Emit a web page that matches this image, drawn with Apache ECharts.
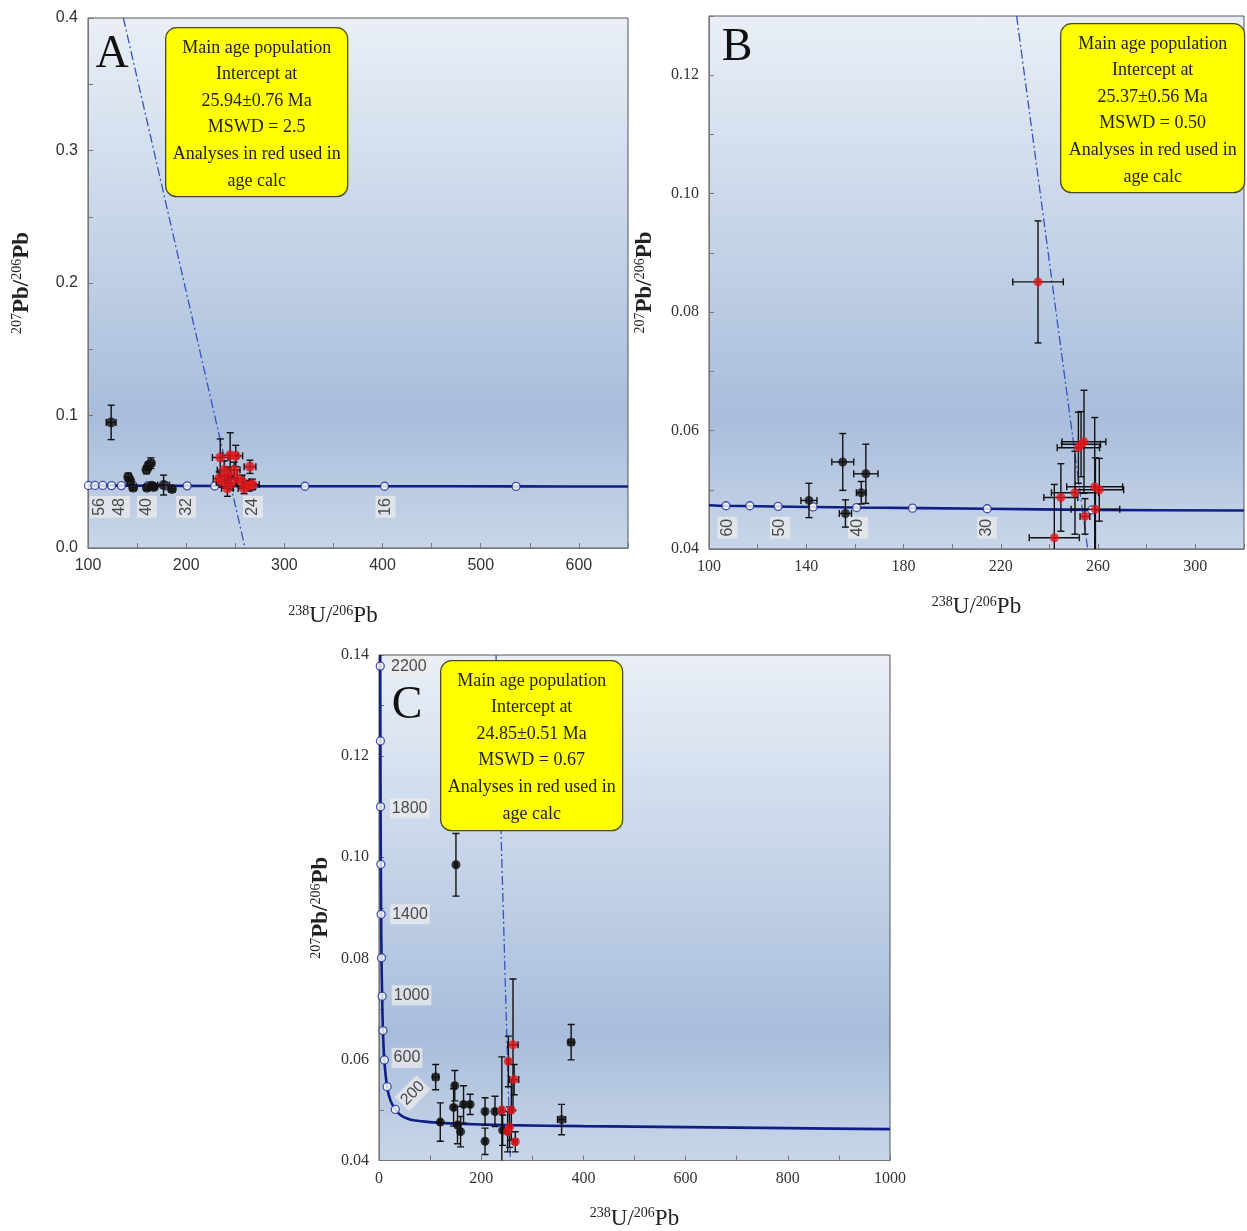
<!DOCTYPE html>
<html>
<head>
<meta charset="utf-8">
<script src="https://cdn.jsdelivr.net/npm/echarts@6/dist/echarts.min.js"></script>
<style>
  html, body { margin: 0; padding: 0; background: #fff; }
  #chart { width: 1247px; height: 1231px; }
</style>
</head>
<body>
<div id="chart"></div>
<script>
// ---- panel A ----
// [x, y, xerr, yerr]
const aBlack = [
  [123.6, 0.0948, 5, 0.013], [141, 0.0535, 3, 0.003], [143, 0.0505, 3, 0.003],
  [146, 0.0455, 3, 0.002], [159.6, 0.059, 3, 0.003], [161.6, 0.062, 3, 0.003],
  [164, 0.064, 3, 0.004], [160, 0.0455, 3, 0.002], [165, 0.047, 3, 0.002],
  [167, 0.046, 3, 0.002], [177, 0.0475, 6, 0.0075], [185.5, 0.0445, 3, 0.002]
];
const aRed = [
  [234.7, 0.0683, 8, 0.014], [244.8, 0.070, 8, 0.017], [250.5, 0.0695, 7, 0.008],
  [265, 0.0613, 6, 0.005], [238.7, 0.0588, 7, 0.007], [233.6, 0.0525, 6, 0.005],
  [242, 0.055, 7, 0.006], [248.8, 0.0588, 6, 0.006], [252, 0.0525, 7, 0.006],
  [245.5, 0.0488, 6, 0.005], [257, 0.050, 7, 0.005], [264, 0.047, 6, 0.004],
  [267.4, 0.048, 7, 0.004], [242, 0.045, 6, 0.006], [259, 0.045, 6, 0.004],
  [236.7, 0.050, 6, 0.004]
];
const aConcordia = [[100, 0.0472], [134, 0.0471], [201, 0.0469], [268, 0.0467], [402, 0.0466], [536, 0.0465], [650, 0.0464]];
const aMarkers = [
  [100.5, 0.0472], [107, 0.0472], [115, 0.0472], [124, 0.0471], [134, 0.0471], [146, 0.0471],
  [161, 0.047], [179, 0.047], [201, 0.0469], [229, 0.0468], [268, 0.0467], [321, 0.0466],
  [402, 0.0466], [536, 0.0465]
];
const aAgeLabels = [[112, 0.031, '56'], [132.6, 0.031, '48'], [160, 0.031, '40'], [200, 0.031, '32'], [268, 0.031, '24'], [403, 0.031, '16']];
const aDiscordia = [[136, 0.4], [260, 0]];
const aNote = ['Main age population', 'Intercept at', '25.94±0.76 Ma', 'MSWD = 2.5', 'Analyses in red used in', 'age calc'];

// ---- panel B ----
const bBlack = [
  [141.1, 0.0482, 3.3, 0.0029], [155.0, 0.0547, 4.5, 0.0048], [156.1, 0.046, 2.5, 0.0023],
  [162.6, 0.0495, 2, 0.0019], [164.5, 0.0527, 5, 0.005]
];
const bRed = [
  [235.3, 0.0851, 10.4, 0.0103], [251.9, 0.0571, 8.7, 0.006], [253, 0.0577, 8, 0.0055],
  [254.2, 0.0581, 9, 0.0087], [244.7, 0.0487, 7, 0.0057], [250.5, 0.0495, 9.7, 0.007],
  [258.6, 0.0505, 11.5, 0.0117], [260.5, 0.050, 10, 0.0053], [258.9, 0.0467, 10, 0.0087],
  [254.6, 0.0455, 2, 0.003], [242, 0.0419, 10.3, 0.009]
];
const bConcordia = [[100, 0.0474], [107, 0.0473], [160.7, 0.047], [214.4, 0.0468], [257.4, 0.0466], [320, 0.0465]];
const bMarkers = [
  [107, 0.0473], [116.8, 0.0473], [128.4, 0.0472], [142.8, 0.0471], [160.7, 0.047],
  [183.7, 0.0469], [214.4, 0.0468], [257.4, 0.0466]
];
const bAgeLabels = [[107.6, 0.0436, '60'], [129.2, 0.0436, '50'], [161.3, 0.0436, '40'], [214.3, 0.0436, '30']];
const bDiscordia = [[226.5, 0.13], [255.7, 0.04]];
const bNote = ['Main age population', 'Intercept at', '25.37±0.56 Ma', 'MSWD = 0.50', 'Analyses in red used in', 'age calc'];

// ---- panel C ----
const cBlack = [
  [150.6, 0.0985, 3, 0.0062], [110.9, 0.0565, 6, 0.0025], [119.9, 0.0476, 3, 0.0038],
  [148.3, 0.0548, 3, 0.003], [146, 0.0505, 3, 0.0037], [153.6, 0.047, 3, 0.0037],
  [159.6, 0.0457, 3, 0.003], [165.5, 0.0511, 3, 0.0037], [178.3, 0.0511, 3, 0.002],
  [207.5, 0.0497, 3, 0.0027], [207.5, 0.0438, 3, 0.0026], [227, 0.0497, 3, 0.003],
  [242, 0.046, 3, 0.003], [357.3, 0.0481, 8, 0.003], [376, 0.0634, 6, 0.0035]
];
const cRed = [
  [240.4, 0.050, 3, 0.0105], [253.2, 0.0596, 3, 0.005], [262.2, 0.0629, 10, 0.013],
  [264.4, 0.056, 9, 0.003], [259, 0.050, 3, 0.006], [255.4, 0.0466, 3, 0.004],
  [251.7, 0.0457, 3, 0.004], [266.7, 0.0437, 4, 0.002]
];
const cConcordia = [
  [2.4, 0.14], [2.46, 0.1378], [2.75, 0.123], [3.11, 0.110], [3.56, 0.0986], [4.15, 0.0887],
  [4.95, 0.0801], [6.1, 0.0725], [7.7, 0.0657], [10.4, 0.0599], [15.8, 0.0546], [22, 0.052],
  [31.9, 0.0501], [42, 0.049], [55, 0.0483], [70, 0.0479], [100, 0.0476], [150, 0.0473],
  [250, 0.047], [400, 0.0468], [600, 0.0466], [800, 0.0464], [1000, 0.0462]
];
const cMarkers = [
  [2.46, 0.1378], [2.75, 0.123], [3.11, 0.110], [3.56, 0.0986], [4.15, 0.0887], [4.95, 0.0801],
  [6.1, 0.0725], [7.7, 0.0657], [10.4, 0.0599], [15.8, 0.0546], [31.9, 0.0501]
];
const cAgeLabels = [[58.4, 0.1378, '2200'], [60, 0.1097, '1800'], [60.7, 0.0887, '1400'], [63.7, 0.0727, '1000'], [54.7, 0.0603, '600']];
const cAgeLabelsTilted = [[66, 0.0533, '200']];
const cDiscordia = [[229, 0.14], [257, 0.04]];
const cNote = ['Main age population', 'Intercept at', '24.85±0.51 Ma', 'MSWD = 0.67', 'Analyses in red used in', 'age calc'];

const SERIF = '"Liberation Serif", "Times New Roman", serif';
const SANS = '"Liberation Sans", Arial, sans-serif';

const plotBg = {
  type: 'linear', x: 0, y: 0, x2: 0, y2: 1,
  colorStops: [
    { offset: 0, color: '#eaeff6' },
    { offset: 0.35, color: '#cbd8ea' },
    { offset: 0.75, color: '#a8bddb' },
    { offset: 1, color: '#c9d6e9' }
  ]
};

function errorBars(params, api) {
  const x = api.value(0), y = api.value(1), ex = api.value(2), ey = api.value(3);
  const l = api.coord([x - ex, y]), r = api.coord([x + ex, y]);
  const t = api.coord([x, y + ey]), b = api.coord([x, y - ey]);
  const c = 3.5;
  const style = { stroke: '#111', lineWidth: 1.4 };
  const seg = (x1, y1, x2, y2) => ({ type: 'line', shape: { x1, y1, x2, y2 }, style });
  return {
    type: 'group',
    children: [
      seg(l[0], l[1], r[0], r[1]), seg(l[0], l[1] - c, l[0], l[1] + c), seg(r[0], r[1] - c, r[0], r[1] + c),
      seg(t[0], t[1], b[0], b[1]), seg(t[0] - c, t[1], t[0] + c, t[1]), seg(b[0] - c, b[1], b[0] + c, b[1])
    ]
  };
}

function ageLabel(rotate) {
  return { show: true, position: 'inside', rotate, formatter: p => p.data[2],
    fontFamily: SANS, fontSize: 16, color: '#222', backgroundColor: 'rgba(236,236,236,0.92)', padding: [2, 2] };
}

function panelSeries(i, black, red, conc, markers, labels, disc, symSize) {
  return [
    { type: 'line', xAxisIndex: i, yAxisIndex: i, data: disc, symbol: 'none', silent: true, z: 2,
      lineStyle: { color: '#3552c4', width: 1.3, type: [9, 3, 2, 3] } },
    { type: 'line', xAxisIndex: i, yAxisIndex: i, data: conc, symbol: 'none', smooth: 0.3, silent: true, z: 3,
      lineStyle: { color: '#0f1f86', width: 2.6 } },
    { type: 'scatter', xAxisIndex: i, yAxisIndex: i, data: markers, symbolSize: 8, z: 4,
      itemStyle: { color: '#fff', borderColor: '#1a2a96', borderWidth: 1.3 } },
    { type: 'scatter', xAxisIndex: i, yAxisIndex: i, data: labels, symbolSize: 0, z: 4,
      label: ageLabel(i === 2 ? 0 : 90) },
    { type: 'custom', xAxisIndex: i, yAxisIndex: i, data: black.concat(red), renderItem: errorBars, clip: true, z: 5 },
    { type: 'scatter', xAxisIndex: i, yAxisIndex: i, data: black, symbolSize: symSize, z: 6,
      itemStyle: { color: '#111' } },
    { type: 'scatter', xAxisIndex: i, yAxisIndex: i, data: red, symbolSize: symSize, z: 7,
      itemStyle: { color: '#e3161c' } }
  ];
}

const nameRich = {
  s: { fontSize: 14, fontFamily: SERIF, color: '#222', padding: [0, 0, 10, 0] },
  m: { fontSize: 23, fontFamily: SERIF, color: '#222' },
  b: { fontSize: 23, fontFamily: SERIF, color: '#222', fontWeight: 'bold' }
};
const yName = '{s|207}{b|Pb/}{s|206}{b|Pb}';
const xName = '{s|238}{m|U/}{s|206}{m|Pb}';

function xAxis(i, min, max, interval, labelStep, font, gap, pad, showMax) {
  return {
    type: 'value', gridIndex: i, min, max, interval,
    name: xName, nameLocation: 'middle', nameGap: gap,
    nameTextStyle: { rich: nameRich, padding: pad || 0 },
    axisLine: { show: true, lineStyle: { color: '#777' } },
    axisTick: { show: true, inside: true, length: 5, lineStyle: { color: '#777' } },
    axisLabel: { fontFamily: font, fontSize: 16, color: '#333', margin: 10,
      formatter: v => (Math.round(v - min) % labelStep === 0 && (showMax || v < max)) ? String(v) : '' },
    splitLine: { show: false }
  };
}
function yAxis(i, min, max, interval, labelStep, digits, font, gap) {
  return {
    type: 'value', gridIndex: i, min, max, interval,
    name: yName, nameLocation: 'middle', nameGap: gap, nameRotate: 90,
    nameTextStyle: { rich: nameRich },
    axisLine: { show: true, lineStyle: { color: '#777' } },
    axisTick: { show: true, inside: true, length: 5, lineStyle: { color: '#777' } },
    axisLabel: { fontFamily: font, fontSize: 16, color: '#333', margin: 10,
      formatter: v => (Math.round((v - min) * 1000) % Math.round(labelStep * 1000) === 0) ? v.toFixed(digits) : '' },
    splitLine: { show: false }
  };
}

function noteBox(left, top, w, h, lines) {
  return {
    type: 'group', left, top, z: 100,
    children: [
      { type: 'rect', z: 100, shape: { x: 0, y: 0, width: w, height: h, r: 11 },
        style: { fill: '#ffff00', stroke: '#4b4b22', lineWidth: 1.3 } },
      { type: 'text', z: 101, style: { x: w / 2, y: 7, text: lines.join('\n'), font: '18px ' + SERIF,
        lineHeight: 26.6, align: 'center', verticalAlign: 'top', fill: '#222' } }
    ]
  };
}
function letter(x, y, t) {
  return { type: 'text', x, y, z: 100, style: { text: t, font: '46px ' + SERIF, fill: '#111', align: 'center', verticalAlign: 'middle' } };
}

const chart = echarts.init(document.getElementById('chart'));
chart.setOption({
  backgroundColor: '#fff',
  animation: false,
  grid: [
    { left: 88, top: 18, width: 540, height: 530, show: true, backgroundColor: plotBg, borderColor: '#555', borderWidth: 1 },
    { left: 709, top: 16, width: 540, height: 533, show: true, backgroundColor: plotBg, borderColor: '#555', borderWidth: 1 },
    { left: 379, top: 655, width: 511, height: 510, show: true, backgroundColor: plotBg, borderColor: '#555', borderWidth: 1 }
  ],
  xAxis: [
    xAxis(0, 100, 650, 50, 100, SANS, 56, [0, 50, 0, 0]),
    xAxis(1, 100, 320, 20, 40, SERIF, 46),
    xAxis(2, 0, 1000, 100, 200, SERIF, 46, 0, true)
  ],
  yAxis: [
    yAxis(0, 0, 0.4, 0.05, 0.1, 1, SANS, 54),
    yAxis(1, 0.04, 0.13, 0.01, 0.02, 2, SERIF, 52),
    yAxis(2, 0.04, 0.14, 0.01, 0.02, 2, SERIF, 46)
  ],
  series: [
    ...panelSeries(0, aBlack, aRed, aConcordia, aMarkers, aAgeLabels, aDiscordia, 10),
    ...panelSeries(1, bBlack, bRed, bConcordia, bMarkers, bAgeLabels, bDiscordia, 9),
    ...panelSeries(2, cBlack, cRed, cConcordia, cMarkers, cAgeLabels, cDiscordia, 9),
    { type: 'scatter', xAxisIndex: 2, yAxisIndex: 2, data: cAgeLabelsTilted, symbolSize: 0, z: 4,
      label: ageLabel(45) }
  ],
  graphic: [
    noteBox(165, 27, 182, 169, aNote),
    noteBox(1060, 23, 184, 169, bNote),
    noteBox(440, 660, 182, 170, cNote),
    letter(112, 55, 'A'),
    letter(737, 48, 'B'),
    letter(407, 706, 'C')
  ]
});
</script>
</body>
</html>
